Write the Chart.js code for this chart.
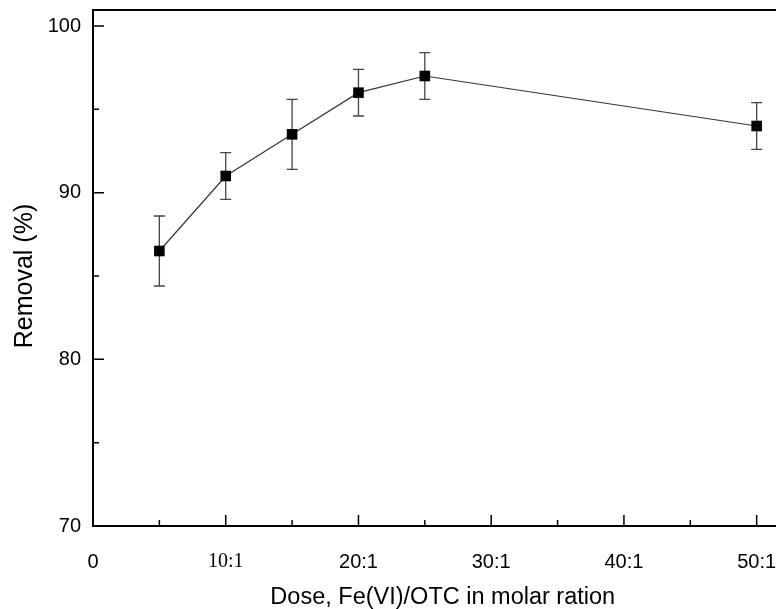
<!DOCTYPE html>
<html>
<head>
<meta charset="utf-8">
<script src="https://cdn.jsdelivr.net/npm/chart.js@4.4.0/dist/chart.umd.min.js"></script>
<style>
html,body{margin:0;padding:0;background:#fff;overflow:hidden;}
#wrap{width:776px;height:609px;position:relative;overflow:hidden;}
</style>
</head>
<body>
<div id="wrap"><canvas id="c" width="800" height="609"></canvas></div>
<script>
// ---- data ----
const doseValues = [5, 10, 15, 20, 25, 50];
const removalValues = [86.5, 91.0, 93.5, 96.0, 97.0, 94.0];
const removalErrors = [2.1, 1.4, 2.1, 1.4, 1.4, 1.4];

const xTickValues = [0, 10, 20, 30, 40, 50];
const xTickLabels = ['0', '10:1', '20:1', '30:1', '40:1', '50:1'];
const xMinorTicks = [5, 15, 25, 35, 45];
const yTickValues = [70, 80, 90, 100];
const yMinorTicks = [75, 85, 95];

const xTitle = 'Dose, Fe(VI)/OTC in molar ration';
const yTitle = 'Removal (%)';

const SANS = 'Liberation Sans, Arial, sans-serif';
const SERIF = 'Liberation Serif, Times New Roman, serif';

const decorPlugin = {
  id: 'decor',
  beforeDatasetsDraw(chart) {
    const ctx = chart.ctx;
    const xs = chart.scales.x, ys = chart.scales.y;
    const a = chart.chartArea;
    ctx.save();
    // top frame line
    ctx.strokeStyle = '#000';
    ctx.lineWidth = 2;
    ctx.beginPath();
    ctx.moveTo(a.left - 1, a.top);
    ctx.lineTo(a.right, a.top);
    ctx.stroke();
    // inward ticks
    ctx.lineWidth = 1.5;
    ctx.beginPath();
    xTickValues.forEach(v => { if (v === xs.min) return; const px = xs.getPixelForValue(v); ctx.moveTo(px, a.bottom); ctx.lineTo(px, a.bottom - 11); });
    xMinorTicks.forEach(v => { const px = xs.getPixelForValue(v); ctx.moveTo(px, a.bottom); ctx.lineTo(px, a.bottom - 6); });
    yTickValues.forEach(v => { if (v === ys.min) return; const py = ys.getPixelForValue(v); ctx.moveTo(a.left, py); ctx.lineTo(a.left + 11, py); });
    yMinorTicks.forEach(v => { const py = ys.getPixelForValue(v); ctx.moveTo(a.left, py); ctx.lineTo(a.left + 6, py); });
    ctx.stroke();
    // y axis title
    ctx.save();
    ctx.translate(25, 276);
    ctx.rotate(-Math.PI / 2);
    ctx.fillStyle = '#000';
    ctx.font = '25px ' + SANS;
    ctx.textAlign = 'center';
    ctx.textBaseline = 'middle';
    ctx.fillText(yTitle, 0, 0);
    ctx.restore();
    // error bars
    ctx.strokeStyle = '#444';
    ctx.lineWidth = 1.3;
    ctx.beginPath();
    doseValues.forEach((d, i) => {
      const px = xs.getPixelForValue(d);
      const top = ys.getPixelForValue(removalValues[i] + removalErrors[i]);
      const bot = ys.getPixelForValue(removalValues[i] - removalErrors[i]);
      ctx.moveTo(px, top); ctx.lineTo(px, bot);
      ctx.moveTo(px - 5.5, top); ctx.lineTo(px + 5.5, top);
      ctx.moveTo(px - 5.5, bot); ctx.lineTo(px + 5.5, bot);
    });
    ctx.stroke();
    ctx.restore();
  }
};

new Chart(document.getElementById('c'), {
  type: 'line',
  data: {
    datasets: [{
      data: doseValues.map((d, i) => ({ x: d, y: removalValues[i] })),
      borderColor: '#333',
      borderWidth: 1.2,
      pointStyle: 'rect',
      pointRadius: 7.5,
      pointHoverRadius: 7.5,
      pointBackgroundColor: '#000',
      pointBorderColor: '#000',
      pointBorderWidth: 0,
      tension: 0,
      clip: false
    }]
  },
  options: {
    responsive: false,
    animation: false,
    devicePixelRatio: 1,
    layout: { padding: { top: 10, right: 0, left: 0, bottom: 0 } },
    plugins: { legend: { display: false }, tooltip: { enabled: false } },
    scales: {
      x: {
        type: 'linear',
        min: 0,
        max: 52.7,
        afterBuildTicks(s) { s.ticks = xTickValues.map(v => ({ value: v })); },
        afterFit(s) { s.height = 83; s.paddingLeft = 0; s.paddingRight = 0; },
        grid: { display: true, drawOnChartArea: false, drawTicks: false },
        border: { display: true, width: 2, color: '#000' },
        ticks: {
          padding: 24,
          color: '#000',
          maxRotation: 0,
          autoSkip: false,
          font: (c) => (c.tick && c.tick.value === 10) ? { family: SERIF, size: 20 } : { family: SANS, size: 20 },
          callback: (v) => { const i = xTickValues.indexOf(v); return i >= 0 ? xTickLabels[i] : ''; }
        },
        title: { display: true, text: xTitle, color: '#000', font: { family: SANS, size: 23.5 }, padding: { top: 0, bottom: -3 } }
      },
      y: {
        type: 'linear',
        min: 70,
        max: 100.96,
        afterBuildTicks(s) { s.ticks = yTickValues.map(v => ({ value: v })); },
        afterFit(s) { s.width = 93; s.paddingTop = 0; s.paddingBottom = 0; },
        grid: { display: true, drawOnChartArea: false, drawTicks: false },
        border: { display: true, width: 2, color: '#000' },
        ticks: { padding: 12, color: '#000', font: { family: SANS, size: 20 } },
        title: { display: false }
      }
    }
  },
  plugins: [decorPlugin]
});
</script>
</body>
</html>
